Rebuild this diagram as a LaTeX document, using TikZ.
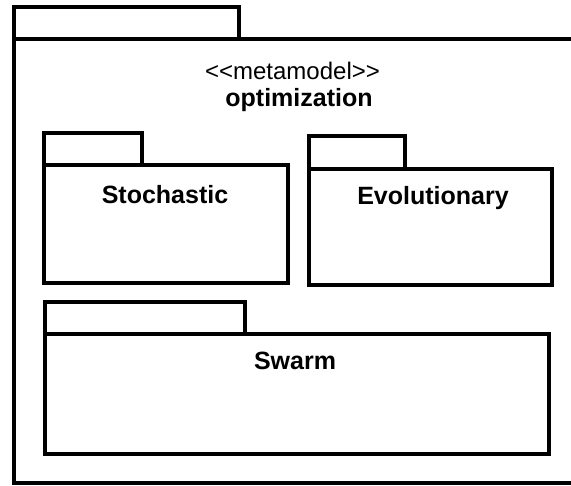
\documentclass[tikz,border=0pt]{standalone}
\usepackage{fontspec}
\setmainfont{Liberation Sans}
\begin{document}
\begin{tikzpicture}[x=1pt,y=-1pt,
  box/.style={draw=black,line width=3.5pt,fill=white,inner sep=0pt,outer sep=0pt,anchor=north west},
  pkgname/.style={font=\bfseries\fontsize{25}{28}\selectfont,inner sep=0pt},
  stereo/.style={font=\fontsize{24}{28}\selectfont,inner sep=0pt}]
\useasboundingbox (0,0) rectangle (571,486);
% outer package
\node[box,minimum width=225pt,minimum height=32pt] (optTab) at (14,7) {};
\node[box,minimum width=570pt,minimum height=444pt] (optBody) at (14,39) {};
\node[stereo] (optSt) at (292.5,71) {<\kern0pt<metamodel>\kern0pt>};
\node[pkgname] (optName) at (299,100) {optimization};
% Stochastic
\node[box,minimum width=98pt,minimum height=32pt] (stoTab) at (44,133) {};
\node[box,minimum width=244pt,minimum height=118pt] (stoBody) at (44,165) {};
\node[pkgname] (stoName) at (165,195) {Stochastic};
% Evolutionary
\node[box,minimum width=96pt,minimum height=33pt] (evoTab) at (309,136) {};
\node[box,minimum width=243pt,minimum height=116pt] (evoBody) at (309,169) {};
\node[pkgname] (evoName) at (433,198) {Evolutionary};
% Swarm
\node[box,minimum width=200pt,minimum height=32pt] (swaTab) at (45,302) {};
\node[box,minimum width=504pt,minimum height=120pt] (swaBody) at (45,334) {};
\node[pkgname] (swaName) at (295,361) {Swarm};
\end{tikzpicture}
\end{document}
